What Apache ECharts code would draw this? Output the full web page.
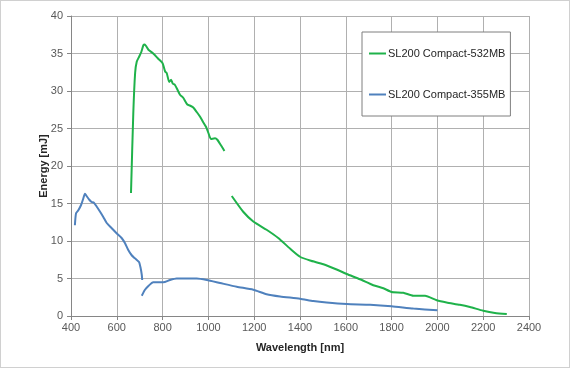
<!DOCTYPE html>
<html>
<head>
<meta charset="utf-8">
<script src="https://cdn.jsdelivr.net/npm/echarts@6/dist/echarts.min.js"></script>
<style>
html,body{margin:0;padding:0;background:#fff;}
#c{width:570px;height:368px;box-sizing:border-box;border:1px solid #d0d0d0;}
</style>
</head>
<body>
<div id="c"></div>
<script>
const seriesNames = ['SL200 Compact-532MB', 'SL200 Compact-355MB'];
const xTicks = [400, 2400, 200];
const yTicks = [0, 40, 5];

const green532a = [
  [662,16.4],[672,27.0],[680,32.4],[687,33.9],[698,34.6],[707,35.2],[716,36.1],[722,36.2],
  [738,35.5],[759,35.0],[781,34.3],[800,33.7],[811,32.6],[818,32.4],[829,31.2],[837,31.5],
  [844,31.0],[854,30.8],[866,30.1],[876,29.5],[890,29.1],[908,28.2],[923,28.0],[934,27.8],
  [949,27.2],[963,26.6],[978,25.8],[990,25.2],[1000,24.4],[1011,23.6],[1029,23.7],[1039,23.5],
  [1054,22.8],[1070,22.0]
];
const green532b = [
  [1102,16.0],[1152,13.9],[1196,12.6],[1254,11.5],[1305,10.4],[1356,9.0],[1400,7.9],[1444,7.4],
  [1502,6.9],[1560,6.2],[1604,5.6],[1662,4.9],[1720,4.1],[1764,3.7],[1800,3.2],[1851,3.1],
  [1895,2.7],[1946,2.7],[1997,2.1],[2040,1.8],[2098,1.5],[2142,1.2],[2200,0.7],[2251,0.4],[2303,0.27]
];
const blue355a = [
  [417,12.1],[422,13.7],[432,14.1],[444,14.8],[454,15.7],[461,16.3],[468,16.0],[480,15.5],
  [490,15.2],[500,15.1],[512,14.6],[527,13.9],[541,13.2],[556,12.4],[578,11.7],[600,11.0],
  [621,10.4],[636,9.7],[650,8.8],[665,8.1],[679,7.7],[697,7.2],[704,6.4],[709,5.5],[711,4.8]
];
const blue355b = [
  [709,2.7],[723,3.5],[738,4.0],[759,4.5],[803,4.5],[832,4.8],[861,5.0],[905,5.0],[949,5.0],
  [993,4.8],[1051,4.4],[1124,3.9],[1196,3.5],[1254,2.9],[1313,2.6],[1400,2.3],[1458,2.0],
  [1516,1.8],[1604,1.6],[1706,1.5],[1800,1.3],[1895,1.0],[2000,0.76]
];

const GREEN = '#1fb24a';
const BLUE = '#4f81bd';
const FONT = 'Liberation Sans';

function mk(name, data, color) {
  return {
    name: name, type: 'line', data: data, showSymbol: false, symbol: 'none',
    smooth: 0.2, lineStyle: { color: color, width: 2 }, itemStyle: { color: color },
    animation: false
  };
}

const chart = echarts.init(document.getElementById('c'), null, { renderer: 'canvas' });
chart.setOption({
  animation: false,
  textStyle: { fontFamily: FONT },
  grid: { left: 70, right: 40, top: 15, bottom: 51, containLabel: false },
  xAxis: {
    type: 'value', min: xTicks[0], max: xTicks[1], interval: xTicks[2],
    name: 'Wavelength [nm]', nameLocation: 'middle', nameGap: 26,
    nameTextStyle: { fontWeight: 'bold', fontSize: 11, color: '#262626', fontFamily: FONT },
    axisLine: { show: true, lineStyle: { color: '#868686', width: 1 } },
    axisTick: { show: true, length: 4, lineStyle: { color: '#868686' } },
    axisLabel: { fontSize: 11, color: '#595959', margin: 6, fontFamily: FONT,
      formatter: function (v) { return String(v); } },
    splitLine: { show: true, lineStyle: { color: '#b0b0b0', width: 1 } }
  },
  yAxis: {
    type: 'value', min: yTicks[0], max: yTicks[1], interval: yTicks[2],
    name: 'Energy [mJ]', nameLocation: 'middle', nameGap: 22, nameRotate: 90,
    nameMoveOverlap: false,
    nameTextStyle: { fontWeight: 'bold', fontSize: 11, color: '#262626', fontFamily: FONT },
    axisLine: { show: true, lineStyle: { color: '#868686', width: 1 } },
    axisTick: { show: true, length: 4, lineStyle: { color: '#868686' } },
    axisLabel: { fontSize: 11, color: '#595959', margin: 8, fontFamily: FONT },
    splitLine: { show: true, lineStyle: { color: '#b0b0b0', width: 1 } }
  },
  legend: {
    data: [
      { name: seriesNames[0], icon: 'rect', itemStyle: { color: GREEN } },
      { name: seriesNames[1], icon: 'rect', itemStyle: { color: BLUE } }
    ],
    orient: 'vertical', left: 361, top: 31,
    padding: [16, 5, 16, 7], itemGap: 30, itemWidth: 17, itemHeight: 2,
    backgroundColor: '#fff', borderColor: '#7f7f7f', borderWidth: 1,
    textStyle: { fontSize: 11, color: '#262626', fontFamily: FONT, padding: [0, 0, 0, -3] }
  },
  series: [
    mk(seriesNames[0], green532a, GREEN),
    mk(seriesNames[0], green532b, GREEN),
    mk(seriesNames[1], blue355a, BLUE),
    mk(seriesNames[1], blue355b, BLUE)
  ]
});
</script>
</body>
</html>
